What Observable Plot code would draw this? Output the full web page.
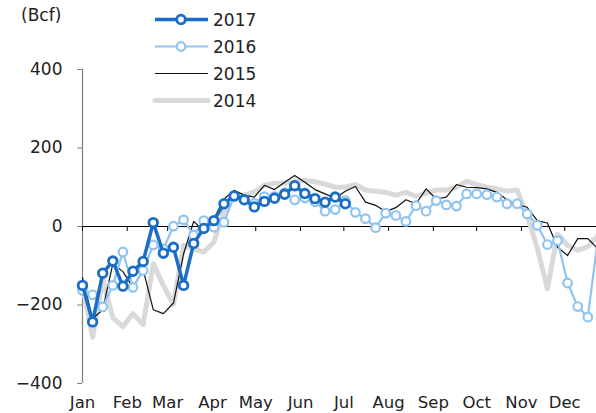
<!DOCTYPE html>
<html>
<head>
<meta charset="utf-8">
<script src="https://cdn.jsdelivr.net/npm/d3@7"></script>
<script src="https://cdn.jsdelivr.net/npm/@observablehq/plot@0.6"></script>
<style>
  html, body { margin: 0; padding: 0; background: white; }
  #chart { width: 596px; height: 413px; }
</style>
</head>
<body>
<div id="chart"></div>
<script>
// Month tick labels and their start days (day of year)
const months = ["Jan","Feb","Mar","Apr","May","Jun","Jul","Aug","Sep","Oct","Nov","Dec"];
const monthStartDays = [0,31,59,90,120,151,181,212,243,273,304,334];
const yTicks = [-400,-200,0,200,400];
const unitLabel = "(Bcf)";

// Weekly storage changes (Bcf), one value per week starting in early January
const s2017 = [-150,-243,-119,-88,-152,-114,-89,10,-68,-53,-150,-43,-5,15,58,78,68,50,64,72,82,104,84,71,62,75,58];
const s2016 = [-163,-174,-205,-150,-65,-155,-112,-47,-57,1,17,-22,15,-2,11,76,68,59,76,76,86,68,73,63,39,43,66,36,20,-3,34,28,13,53,39,66,55,52,83,83,81,75,58,58,32,3,-46,-36,-144,-204,-231,-30];
const s2015 = [-130,-235,-212,-95,-115,-155,-110,-212,-222,-195,-70,13,-12,20,70,92,80,75,105,94,113,130,113,94,83,72,90,102,62,54,38,48,68,58,96,70,75,107,100,99,96,87,68,56,49,15,9,-53,-74,-31,-31,-57];
const s2014 = [-150,-282,-135,-232,-255,-222,-250,-95,-150,-198,-48,-57,-65,-40,40,78,80,88,105,110,110,115,117,114,108,100,100,107,93,90,87,80,87,77,85,93,93,100,115,107,100,96,90,93,28,-55,-159,-19,-48,-61,-51,-23];

const years = ["2017","2016","2015","2014"];
const toRows = (vals, year) => vals.map((v, i) => ({year, day: i * 7, value: v}));
const d2017 = toRows(s2017, "2017");
const d2016 = toRows(s2016, "2016");
const d2015 = toRows(s2015, "2015");
const d2014 = toRows(s2014, "2014");

const C17 = "#1b6ec6", C16 = "#8fc4f1", C15 = "#111111", C14 = "#d9d9d9";
const X_MAX = 356;
const FONT = "'DejaVu Sans', sans-serif";

const chart = Plot.plot({
  width: 596,
  height: 413,
  marginLeft: 82,
  marginRight: 0,
  marginTop: 69,
  marginBottom: 30,
  style: {fontFamily: FONT, fontSize: "16.5px", background: "white", color: "#222"},
  x: {domain: [0, X_MAX], axis: null},
  y: {domain: [-400, 400], axis: null},
  marks: [
    Plot.axisY({ticks: yTicks, label: null, tickSize: 5, tickPadding: 15, stroke: "#808080", fill: "#222", fontSize: 17}),
    Plot.axisX({ticks: monthStartDays, label: null, tickFormat: d => months[monthStartDays.indexOf(d)], tickSize: 0, tickPadding: 13, fill: "#222", fontSize: 16.5}),
    Plot.ruleX([0], {stroke: "#808080", strokeWidth: 1.2}),
    Plot.ruleY([0], {stroke: "#000", strokeWidth: 1.2}),
    Plot.ruleX(monthStartDays, {y1: 0, y2: 0, insetBottom: -5, insetTop: 0, stroke: "#000", strokeWidth: 1}),
    Plot.line(d2014, {x: "day", y: "value", stroke: C14, strokeWidth: 5, strokeLinejoin: "round"}),
    Plot.line(d2015, {x: "day", y: "value", stroke: C15, strokeWidth: 1.2}),
    Plot.line(d2016, {x: "day", y: "value", stroke: C16, strokeWidth: 2.2}),
    Plot.dot(d2016.filter(d => d.day <= X_MAX), {x: "day", y: "value", r: 4.3, fill: "white", stroke: C16, strokeWidth: 2.2}),
    Plot.line(d2017, {x: "day", y: "value", stroke: C17, strokeWidth: 3.5}),
    Plot.dot(d2017, {x: "day", y: "value", r: 4.3, fill: "white", stroke: C17, strokeWidth: 2.8})
  ]
});
document.getElementById("chart").appendChild(chart);

// Unit label and legend drawn on top of the plot's svg
const svg = d3.select(chart);
svg.append("text")
  .attr("x", 21).attr("y", 21).attr("text-anchor", "start")
  .attr("font-family", FONT).attr("font-size", 17).attr("fill", "#222")
  .text(unitLabel);

const legendStyles = [
  {stroke: C17, width: 3.5, dot: true, dotStroke: 2.8},
  {stroke: C16, width: 2.2, dot: true, dotStroke: 2.2},
  {stroke: C15, width: 1.2, dot: false},
  {stroke: C14, width: 5, dot: false}
];
const lg = svg.append("g").attr("text-anchor", "start");
years.forEach((yr, k) => {
  const cy = 19.5 + k * 27;
  const st = legendStyles[k];
  lg.append("line").attr("x1", 155).attr("x2", 208).attr("y1", cy).attr("y2", cy)
    .attr("stroke", st.stroke).attr("stroke-width", st.width).attr("stroke-linecap", k === 3 ? "round" : "butt");
  if (st.dot) {
    lg.append("circle").attr("cx", 181).attr("cy", cy).attr("r", 4.3)
      .attr("fill", "white").attr("stroke", st.stroke).attr("stroke-width", st.dotStroke);
  }
  lg.append("text").attr("x", 213).attr("y", cy + 6.5).attr("text-anchor", "start")
    .attr("font-family", FONT).attr("font-size", 17).attr("fill", "#222")
    .text(yr);
});
</script>
</body>
</html>
